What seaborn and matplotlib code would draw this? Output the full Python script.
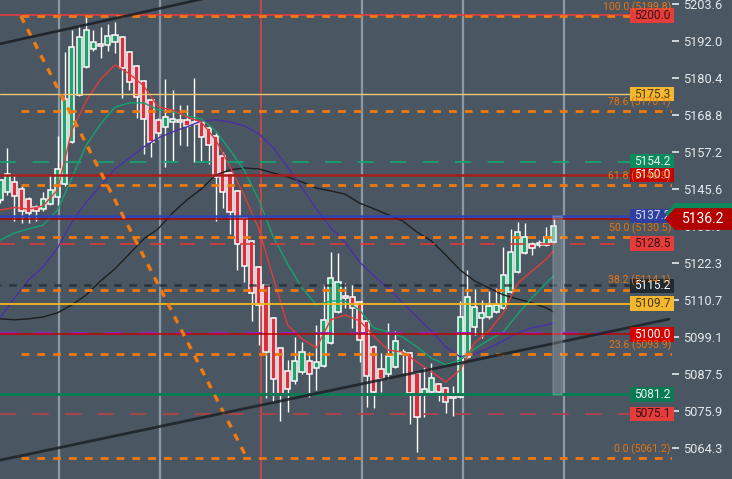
import matplotlib
matplotlib.use("Agg")
import matplotlib.pyplot as plt
from matplotlib.patches import Rectangle, Polygon
import pandas as pd
import seaborn as sns

#%%
#  Data (5-min candles, index 0..77)

opens = [5142.2, 5144.7, 5147.8, 5145.6, 5142.5, 5140.0, 5139.4, 5140.9, 5143.1, 5147.2,
         5160.3, 5175.1, 5183.9, 5189.5, 5191.1, 5190.8, 5191.7, 5193.3, 5188.6, 5184.2,
         5179.5, 5173.5, 5167.3, 5165.1, 5166.6, 5167.3, 5167.3, 5166.6, 5166.6, 5164.7,
         5162.2, 5156.0, 5150.6, 5145.0, 5136.5, 5129.3, 5121.2, 5115.5, 5105.2, 5095.8,
         5088.6, 5085.5, 5088.3, 5091.7, 5089.5, 5090.1, 5097.4, 5107.1, 5112.1, 5111.8,
         5110.2, 5104.3, 5096.1, 5089.2, 5087.6, 5089.8, 5094.5, 5094.2, 5088.0, 5081.4,
         5082.0, 5084.5, 5083.2, 5080.7, 5080.4, 5093.0, 5102.4, 5105.2, 5105.5, 5107.1,
         5108.3, 5113.3, 5119.6, 5125.5, 5128.4, 5128.1, 5128.1, 5129.0]
highs = [5146.0, 5158.5, 5150.3, 5146.5, 5143.1, 5140.6, 5144.7, 5150.0, 5162.2, 5188.6,
         5195.5, 5197.0, 5199.5, 5195.5, 5196.4, 5197.3, 5198.0, 5193.6, 5188.9, 5184.5,
         5179.8, 5173.8, 5167.9, 5180.1, 5176.7, 5171.9, 5171.9, 5180.4, 5167.3, 5165.4,
         5163.2, 5157.2, 5150.9, 5145.3, 5136.8, 5129.6, 5121.5, 5115.8, 5105.5, 5096.1,
         5092.0, 5099.2, 5097.7, 5094.5, 5103.0, 5115.8, 5125.9, 5125.5, 5116.1, 5115.5,
         5110.5, 5104.6, 5096.7, 5094.2, 5103.6, 5101.1, 5095.5, 5094.5, 5088.3, 5089.8,
         5091.1, 5084.8, 5083.5, 5083.9, 5110.5, 5120.2, 5114.3, 5110.8, 5113.7, 5114.6,
         5127.4, 5133.1, 5135.3, 5135.0, 5129.0, 5129.6, 5133.7, 5136.5]
lows = [5141.2, 5143.7, 5135.6, 5135.0, 5135.0, 5135.6, 5138.7, 5140.6, 5140.6, 5146.5,
        5160.0, 5174.8, 5183.6, 5188.9, 5186.7, 5188.9, 5188.3, 5174.2, 5176.7, 5167.9,
        5156.6, 5155.7, 5161.3, 5152.5, 5154.4, 5159.4, 5159.1, 5154.1, 5154.1, 5153.5,
        5135.6, 5139.7, 5131.5, 5120.2, 5116.5, 5104.3, 5096.7, 5080.1, 5078.9, 5072.9,
        5075.7, 5084.5, 5087.6, 5080.4, 5082.6, 5089.8, 5097.0, 5106.7, 5108.3, 5102.1,
        5091.4, 5077.3, 5077.0, 5082.0, 5086.1, 5089.5, 5088.0, 5072.0, 5063.2, 5074.2,
        5081.7, 5079.2, 5075.4, 5074.5, 5080.1, 5092.7, 5099.9, 5098.9, 5104.9, 5106.7,
        5108.0, 5113.0, 5119.3, 5125.2, 5124.9, 5127.4, 5127.7, 5128.7]
closes = [5148.4, 5150.3, 5143.4, 5138.7, 5138.1, 5138.7, 5142.5, 5145.3, 5151.9, 5173.8,
          5190.1, 5193.3, 5195.5, 5191.7, 5190.5, 5193.6, 5193.9, 5183.6, 5179.2, 5174.5,
          5167.6, 5160.3, 5163.2, 5168.2, 5167.6, 5166.6, 5165.4, 5166.0, 5161.9, 5159.4,
          5149.4, 5144.7, 5138.4, 5128.4, 5121.5, 5113.0, 5109.3, 5094.5, 5086.1, 5081.4,
          5082.9, 5091.7, 5094.5, 5087.6, 5091.4, 5104.6, 5117.7, 5116.5, 5111.5, 5108.3,
          5098.3, 5087.0, 5082.0, 5086.1, 5093.3, 5098.0, 5093.9, 5081.7, 5074.2, 5082.9,
          5086.4, 5082.0, 5078.9, 5080.1, 5105.5, 5111.8, 5108.6, 5106.7, 5108.9, 5109.3,
          5118.7, 5125.9, 5132.1, 5130.6, 5127.1, 5128.7, 5130.6, 5134.0]

# moving averages, read every second candle
ma_x = list(range(0, 78, 2)) + [77]
ma_fast = [5139.0, 5139.8, 5139.3, 5140.3, 5145.3, 5164.1, 5173.2, 5180.1, 5184.5, 5181.7,
           5177.9, 5171.3, 5170.4, 5168.2, 5166.6, 5161.0, 5152.5, 5143.4, 5133.1, 5117.7,
           5103.0, 5098.6, 5095.8, 5104.6, 5106.1, 5104.3, 5099.5, 5095.1, 5094.5, 5091.4,
           5088.3, 5085.1, 5088.9, 5097.4, 5101.1, 5106.7, 5116.1, 5119.9, 5123.7, 5126.2]
ma_mid = [5129.6, 5131.8, 5133.1, 5134.3, 5139.0, 5149.1, 5159.4, 5166.0, 5171.3, 5172.6,
          5172.6, 5170.4, 5169.8, 5168.5, 5167.6, 5163.8, 5157.8, 5151.3, 5142.2, 5130.6,
          5122.1, 5114.6, 5109.3, 5110.5, 5110.5, 5107.7, 5102.1, 5100.8, 5099.2, 5096.1,
          5092.6, 5090.5, 5092.0, 5095.5, 5098.3, 5100.8, 5106.4, 5111.5, 5116.2, 5118.3]
ma_slow = [5105.2, 5111.4, 5117.1, 5121.2, 5127.1, 5135.3, 5141.5, 5146.6, 5151.9, 5155.3,
           5158.8, 5161.6, 5163.5, 5165.1, 5166.9, 5167.3, 5166.6, 5165.4, 5162.9, 5158.5,
           5152.5, 5145.9, 5139.4, 5133.4, 5129.0, 5122.7, 5118.4, 5114.6, 5109.9, 5105.5,
           5101.1, 5096.1, 5093.0, 5093.9, 5095.8, 5098.0, 5100.5, 5102.1, 5103.0, 5103.6]
ma_long = [5104.9, 5104.6, 5104.9, 5105.5, 5106.8, 5109.3, 5112.4, 5116.8, 5120.6, 5125.3,
           5130.0, 5133.1, 5138.1, 5142.2, 5145.6, 5150.0, 5151.6, 5152.2, 5151.9, 5150.6,
           5149.4, 5147.8, 5145.9, 5145.0, 5144.0, 5141.2, 5139.4, 5137.5, 5135.6, 5132.1,
           5129.3, 5124.9, 5120.2, 5116.8, 5114.6, 5112.4, 5111.1, 5109.9, 5108.3, 5107.1]

# fibonacci retracement
fib_pct = ["100.0", "78.6", "61.8", "50.0", "38.2", "23.6", "0.0"]
fib_price = [5199.8, 5170.1, 5146.9, 5130.5, 5114.1, 5093.9, 5061.2]

# price level tags on the right edge
tag_price = [5200.0, 5175.3, 5154.2, 5150.0, 5137.2, 5128.5, 5115.2, 5109.7, 5100.0, 5081.2, 5075.1]
tag_face = ["#e53c3c", "#f4b731", "#0d8a5e", "#c40000", "#2f3f9e", "#e53c3c",
            "#1f2a31", "#f4b731", "#d40000", "#0a7a55", "#e53c3c"]
tag_text = ["#3a1010", "#4a3a10", "#e8f4ee", "#ffffff", "#d8dcf0", "#3a1010",
            "#ffffff", "#4a3a10", "#ffffff", "#e8f4ee", "#3a1010"]

last_price = 5136.2
y_ticks = [5203.6, 5192.0, 5180.4, 5168.8, 5157.2, 5145.6, 5133.9,
           5122.3, 5110.7, 5099.1, 5087.5, 5075.9, 5064.3]
session_x = [8.2, 22.25, 50.35, 64.4, 78.45]
red_session_x = 36.3

#%%
#  Plot

bg = "#4a5762"
sns.set_style("dark", {"axes.facecolor": bg, "figure.facecolor": bg})
plt.rcParams["font.family"] = ["Roboto", "DejaVu Sans"]

fig = plt.figure(figsize=(7.32, 4.79), dpi=100)
ax = fig.add_axes([0, 0, 672 / 732, 1])
ax.set_facecolor(bg)
ax.set_xlim(0, 93.46)
ax.set_ylim(5054.7, 5204.85)

for x in session_x:
    ax.axvline(x, color="#8a99a3", lw=1.6, zorder=1)
ax.axvline(red_session_x, color="#d84444", lw=1.2, zorder=1)

# candles
df = pd.DataFrame({"o": opens, "h": highs, "l": lows, "c": closes})
df["i"] = range(len(df))
up = df["c"] >= df["o"]
ax.vlines(df["i"], df["l"], df["h"], color="white", lw=1.0, zorder=3)
body_lo = df[["o", "c"]].min(axis=1)
body_h = (df["c"] - df["o"]).abs().clip(lower=0.4)
colors = ["#22a06b" if u else "#d9303e" for u in up]
colors[-1] = "#5fbf98"
ax.bar(df["i"], body_h, bottom=body_lo, width=0.72, color=colors,
       edgecolor="white", linewidth=1.1, zorder=3)

# moving averages
ma = pd.DataFrame({"x": ma_x, "fast": ma_fast, "mid": ma_mid, "slow": ma_slow, "long": ma_long})
for col, c in [("long", "#1e1e1e"), ("slow", "#4b2fa6"), ("mid", "#14a36f"), ("fast", "#e23b3b")]:
    sns.lineplot(data=ma, x="x", y=col, ax=ax, color=c, lw=1.0, zorder=4,
                 estimator=None, sort=False, legend=False)

# horizontal levels
ax.axhline(5200.0, color="#e53c3c", lw=1.2, zorder=5)
ax.axhline(5175.3, color="#eec878", lw=1.0, zorder=5)
ax.axhline(5154.2, color="#14a36f", lw=1.3, ls=(0, (9, 9)), zorder=5)
ax.axhline(5150.0, color="#a81c1c", lw=1.8, zorder=5)
ax.axhline(5137.2, color="#2e44b4", lw=1.8, zorder=5)
ax.axhline(last_price, color="#b00000", lw=1.1, zorder=5)
ax.axhline(5128.5, color="#dd3a3a", lw=1.2, ls=(0, (9, 9)), zorder=5)
ax.axhline(5115.4, color="#1f262b", lw=1.8, ls=(2.5, (3, 3)), alpha=0.75, zorder=5)
ax.axhline(5109.7, color="#f5b81c", lw=1.3, zorder=5)
ax.axhline(5100.4, color="#8a2ad0", lw=1.4, ls=(0, (9, 9)), zorder=5)
ax.axhline(5100.0, color="#c80000", lw=1.1, zorder=5)
ax.axhline(5081.2, color="#0b7a55", lw=2.2, zorder=5)
ax.axhline(5075.1, color="#b0424a", lw=1.3, ls=(0, (9, 9)), zorder=5)

for p in fib_price:
    ax.plot([2.9, 93.46], [p, p], color="#f07a10", lw=2.0, ls=(0, (2.8, 2.9)), zorder=6)
ax.plot([2.9, 34.35], [fib_price[0], fib_price[-1]], color="#f07a10", lw=2.4,
        ls=(0, (2.2, 2.2)), zorder=6)

# trend lines
ax.plot([0, 40], [5191.1, 5211.1], color="#1c2126", lw=1.9, alpha=0.9, zorder=6)
ax.plot([0, 93.0], [5060.6, 5104.8], color="#1c2126", lw=2.0, alpha=0.85, zorder=6)

# highlight on last bar
ax.add_patch(Rectangle((76.95, 5080.9), 1.2, 56.3, facecolor="#c8d2d8", alpha=0.25,
                       edgecolor="#b8c4cc", lw=1.2, zorder=6))

# right edge tags
trans = ax.get_yaxis_transform()
for p, fc, tc in zip(tag_price, tag_face, tag_text):
    ax.add_patch(Rectangle((630 / 672, p - 2.25), 44 / 672, 4.5, transform=trans,
                           facecolor=fc, edgecolor="none", clip_on=False, zorder=8))
    ax.text(652 / 672, p, f"{p:.1f}", transform=trans, ha="center", va="center",
            color=tc, fontsize=8.6, zorder=9, clip_on=False)

for pct, p in zip(fib_pct, fib_price):
    ax.text(671 / 672, p + 1.0, f"{pct} ({p:.1f})", transform=trans, ha="right",
            va="bottom", color="#e8730f", fontsize=7.6, zorder=10)

# last price arrow tag
h = 3.4
ax.add_patch(Polygon([(665 / 672, last_price + 1.6), (675 / 672, last_price + h + 1.6),
                      (735 / 672, last_price + h + 1.6), (735 / 672, last_price - h + 1.6),
                      (675 / 672, last_price - h + 1.6)], closed=True, transform=trans,
                     facecolor="#0c8a5c", edgecolor="none", clip_on=False, zorder=11))
ax.add_patch(Polygon([(665 / 672, last_price), (675 / 672, last_price + h),
                      (735 / 672, last_price + h), (735 / 672, last_price - h),
                      (675 / 672, last_price - h)], closed=True, transform=trans,
                     facecolor="#b30000", edgecolor="none", clip_on=False, zorder=12))
ax.text(703 / 672, last_price, f"{last_price:.1f}", transform=trans, ha="center",
        va="center", color="white", fontsize=10, zorder=13, clip_on=False)

ax.yaxis.tick_right()
ax.set_yticks(y_ticks)
ax.set_yticklabels([f"{v:.1f}" for v in y_ticks])
ax.tick_params(axis="y", colors="#e4e8eb", length=5, width=1.2, pad=3, labelsize=9.2)
ax.set_xticks([])
ax.set_xlabel("")
ax.set_ylabel("")
for s in ax.spines.values():
    s.set_visible(False)

fig.savefig("out.png", dpi=100, facecolor=bg)
